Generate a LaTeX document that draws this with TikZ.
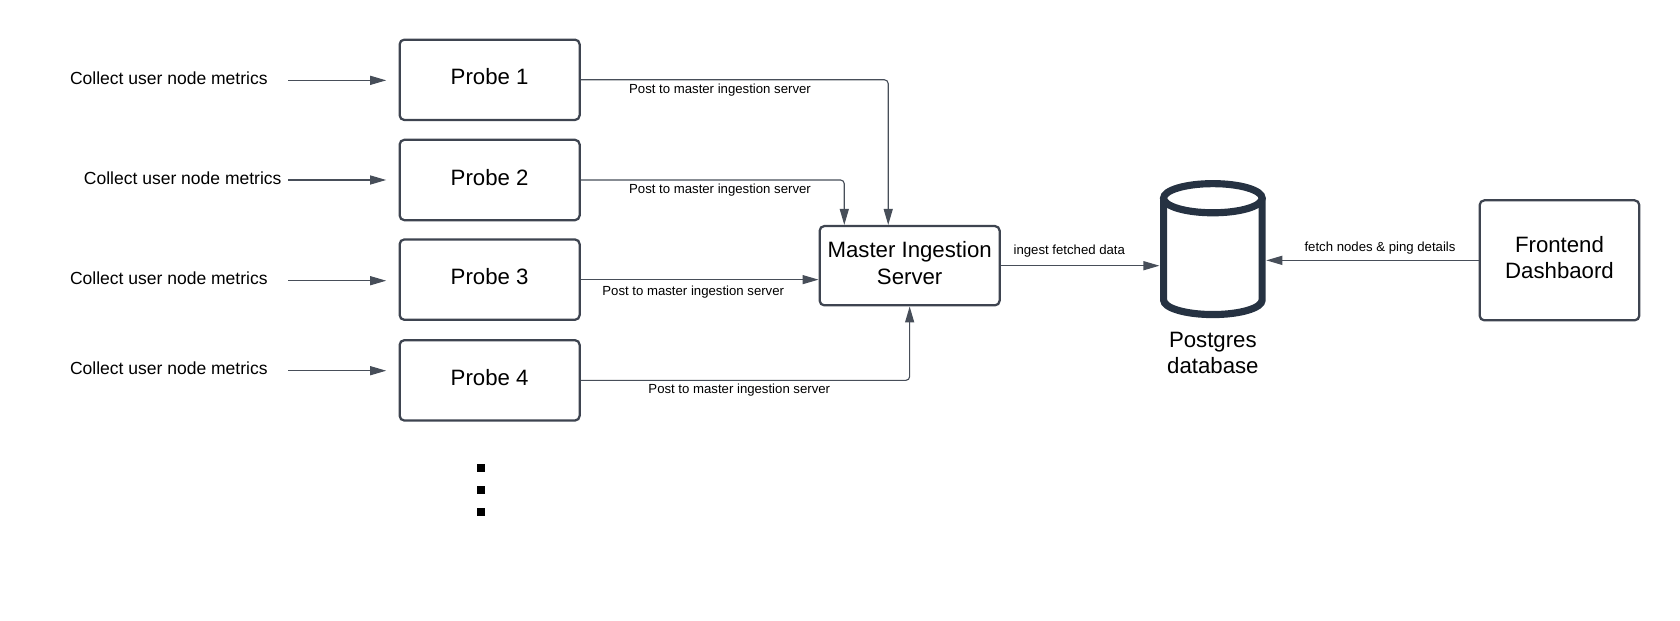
\documentclass[tikz,border=0pt]{standalone}
\usepackage{fontspec}
\setmainfont{Liberation Sans}
\usetikzlibrary{arrows.meta}
\definecolor{boxgray}{HTML}{3E4450}
\definecolor{linegray}{HTML}{474E59}
\definecolor{dbnavy}{HTML}{263242}

\begin{document}
\begin{tikzpicture}[
  box/.style={draw=boxgray, line width=1.2pt, rounded corners=2.5pt, minimum width=3.36cm, minimum height=1.5cm, align=center, text depth=3.2pt, font=\fontsize{11.8}{14.2}\selectfont},
  conn/.style={draw=linegray, line width=0.6pt, rounded corners=2pt, -{Triangle[length=8.5pt,width=4.8pt]}},
  srclbl/.style={anchor=west, inner sep=0, font=\fontsize{9.3}{11}\selectfont},
  postlbl/.style={inner sep=0, font=\fontsize{7}{8.4}\selectfont},
  dbline/.style={draw=dbnavy, line width=3.8pt},
  vdot/.style={fill=black},
]
\useasboundingbox (0,0) rectangle (31.36,11.58);

\node [srclbl] (c1) at (1.30,10.12) {Collect user node metrics};
\node [srclbl] (c2) at (1.56,8.26) {Collect user node metrics};
\node [srclbl] (c3) at (1.30,6.38) {Collect user node metrics};
\node [srclbl] (c4) at (1.30,4.70) {Collect user node metrics};

\coordinate (t1) at (5.38,10.08);
\coordinate (t2) at (5.38,8.22);
\coordinate (t3) at (5.38,6.34);
\coordinate (t4) at (5.38,4.66);

\node [box] (p1) at (9.14,10.09) {Probe 1};
\node [box] (p2) at (9.14,8.22) {Probe 2};
\node [box] (p3) at (9.14,6.36) {Probe 3};
\node [box] (p4) at (9.14,4.48) {Probe 4};

\draw [conn, shorten >=0.23cm] (t1) -- (t1 -| p1.west);
\draw [conn, shorten >=0.23cm] (t2) -- (t2 -| p2.west);
\draw [conn, shorten >=0.23cm] (t3) -- (t3 -| p3.west);
\draw [conn, shorten >=0.23cm] (t4) -- (t4 -| p4.west);

\path [vdot] (8.905,2.775) rectangle +(0.15,0.15);
\path [vdot] (8.905,2.365) rectangle +(0.15,0.15);
\path [vdot] (8.905,1.955) rectangle +(0.15,0.15);

\node [box, minimum height=1.48cm] (mis) at (16.98,6.62) {Master Ingestion\\Server};

\draw [conn] (p1.east) -| ([xshift=-0.4cm]mis.north);
\draw [conn] (p2.east) -| ([xshift=-1.22cm]mis.north);
\draw [conn] (p3.east) -- (p3.east -| mis.west);
\draw [conn] (p4.east) -| (mis.south);

\node [postlbl] (l1) at (13.44,9.90) {Post to master ingestion server};
\node [postlbl] (l2) at (13.44,8.04) {Post to master ingestion server};
\node [postlbl] (l3) at (12.94,6.12) {Post to master ingestion server};
\node [postlbl] (l4) at (13.80,4.30) {Post to master ingestion server};

\node (db) [minimum width=1.98cm, minimum height=2.58cm, inner sep=0] at (22.64,6.93) {};
\draw [dbline] (21.72,7.88) -- (21.72,5.98) arc [start angle=180, end angle=360, x radius=0.92, y radius=0.272] -- (23.56,7.88);
\draw [dbline] (22.64,7.88) ellipse [x radius=0.92, y radius=0.272];
\node (dbtxt) [align=center, font=\fontsize{11.8}{14.2}\selectfont] at (22.64,4.99) {Postgres\\database};

\node [box, minimum width=2.98cm, minimum height=2.24cm] (fe) at (29.11,6.72) {Frontend\\Dashbaord};

\draw [conn] (mis.east) -- (mis.east -| db.west);
\draw [conn] (fe.west) -- (fe.west -| db.east);

\node [postlbl] (ingest) at (19.96,6.90) {ingest fetched data};
\node [postlbl] (fetch) at (25.76,6.94) {fetch nodes \& ping details};

\end{tikzpicture}
\end{document}
